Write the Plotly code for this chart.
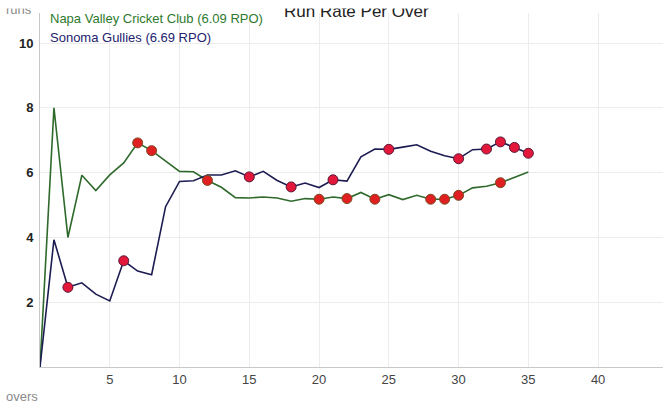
import plotly.graph_objects as go

overs = list(range(0, 36))
napa_rr = [0, 8, 4, 5.92, 5.45, 5.93, 6.3, 6.92, 6.68, 6.36, 6.04, 6.03, 5.76, 5.55, 5.23,
           5.22, 5.25, 5.22, 5.12, 5.2, 5.18, 5.25, 5.2, 5.39, 5.18, 5.32, 5.17, 5.3,
           5.18, 5.18, 5.3, 5.53, 5.58, 5.69, 5.85, 6.02]
napa_wkts = [7, 8, 12, 20, 22, 24, 28, 29, 30, 33]
sonoma_rr = [0, 3.93, 2.46, 2.6, 2.25, 2.04, 3.28, 2.96, 2.85, 4.95, 5.73, 5.75, 5.93, 5.93,
             6.06, 5.87, 6.04, 5.76, 5.56, 5.68, 5.54, 5.78, 5.74, 6.49, 6.73, 6.72, 6.79,
             6.86, 6.66, 6.52, 6.43, 6.71, 6.73, 6.95, 6.78, 6.6]
sonoma_wkts = [2, 6, 15, 18, 21, 25, 30, 32, 33, 34, 35]

napa_name = "Napa Valley Cricket Club (6.09 RPO)"
sonoma_name = "Sonoma Gullies (6.69 RPO)"
x_ticks = [5, 10, 15, 20, 25, 30, 35, 40]
y_ticks = [2, 4, 6, 8, 10]

W, H = 663, 407
ML, MR, MT, MB = 40, 0, 13, 40
PW, PH = W - ML - MR, H - MT - MB

def px_x(p):
    return (p - ML) / PW

def px_y(p):
    return 1 - (p - MT) / PH

fig = go.Figure()
fig.add_trace(go.Scatter(x=overs, y=napa_rr, mode="lines", line=dict(color="#2f6a2c", width=1.6),
                         name=napa_name, showlegend=False, hoverinfo="skip"))
fig.add_trace(go.Scatter(x=overs, y=sonoma_rr, mode="lines", line=dict(color="#1c1c52", width=1.6),
                         name=sonoma_name, showlegend=False, hoverinfo="skip"))
fig.add_trace(go.Scatter(x=napa_wkts, y=[napa_rr[o] for o in napa_wkts], mode="markers",
                         marker=dict(size=10, color="#e02020", line=dict(color="#7a4a22", width=1)),
                         showlegend=False))
fig.add_trace(go.Scatter(x=sonoma_wkts, y=[sonoma_rr[o] for o in sonoma_wkts], mode="markers",
                         marker=dict(size=10, color="#e3173a", line=dict(color="#5a1a3a", width=1)),
                         showlegend=False))

font = "Liberation Sans, Arial, sans-serif"
annotations = [
    dict(text="Run Rate Per Over", x=px_x(356), y=px_y(18), xref="paper", yref="paper",
         xanchor="center", yanchor="bottom", yshift=-5, showarrow=False,
         font=dict(family=font, size=17, color="#222")),
    dict(text="runs", x=px_x(4), y=px_y(15), xref="paper", yref="paper",
         xanchor="left", yanchor="bottom", yshift=-4, showarrow=False,
         font=dict(family=font, size=13, color="#8a8a8a")),
    dict(text="overs", x=px_x(4), y=px_y(396), xref="paper", yref="paper",
         xanchor="left", yanchor="middle", showarrow=False,
         font=dict(family=font, size=13, color="#8a8a8a")),
    dict(text=napa_name, x=px_x(48), y=px_y(18), xref="paper", yref="paper",
         xanchor="left", yanchor="middle", showarrow=False,
         font=dict(family=font, size=13, color="#2e7a2e")),
    dict(text=sonoma_name, x=px_x(48), y=px_y(38), xref="paper", yref="paper",
         xanchor="left", yanchor="middle", showarrow=False,
         font=dict(family=font, size=13, color="#23236e")),
    # white strip mimicking top clipping of the reference
    dict(text=" ", x=px_x(0), y=px_y(0), xref="paper", yref="paper", xanchor="left",
         yanchor="top", width=W, height=7, bgcolor="white", borderpad=0, showarrow=False,
         font=dict(size=4)),
]

fig.update_layout(
    width=W, height=H, margin=dict(l=ML, r=MR, t=MT, b=MB),
    paper_bgcolor="white", plot_bgcolor="white",
    showlegend=False, annotations=annotations,
    font=dict(family=font),
    xaxis=dict(range=[0, 44.65], tickvals=x_ticks, showgrid=True, gridcolor="#ececec",
               zeroline=False, showline=True, linecolor="#c8c8c8", linewidth=1,
               ticks="", tickfont=dict(family=font, size=13, color="#444")),
    yaxis=dict(range=[0, 10.93], tickvals=y_ticks, showgrid=True, gridcolor="#ececec",
               zeroline=False, showline=True, linecolor="#c8c8c8", linewidth=1,
               ticks="", tickfont=dict(family=font, size=13, color="#222", weight="bold"),
               ticklabelstandoff=3),
)

fig.write_html("out.html", config={"displayModeBar": False},
               post_script="document.body.style.margin='0';document.body.style.overflow='hidden';")
